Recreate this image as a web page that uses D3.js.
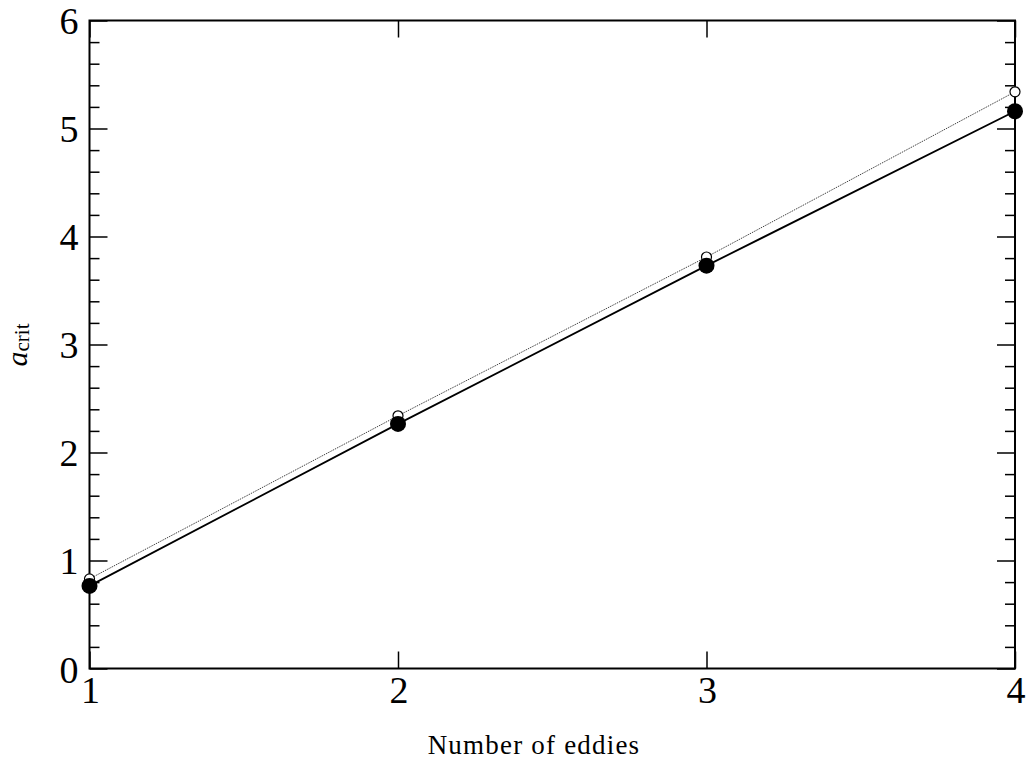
<!DOCTYPE html>
<html>
<head>
<meta charset="utf-8">
<script src="https://cdn.jsdelivr.net/npm/d3@7"></script>
<style>
  body { margin: 0; background: white; }
  text { font-family: 'Liberation Serif', 'DejaVu Serif', serif; fill: black; }
</style>
</head>
<body>
<div id="root"></div>
<script>
const eddies = [1, 2, 3, 4]
const critFilled = [0.765, 2.265, 3.73, 5.16]
const critOpen = [0.83, 2.34, 3.81, 5.34]
const xTicks = [1, 2, 3, 4]
const yTicks = [0, 1, 2, 3, 4, 5, 6]

const dimensions = {
  width: 1027,
  height: 763,
  margin: { top: 20.5, right: 12, bottom: 94.5, left: 89.5 }
}
const innerW = dimensions.width - dimensions.margin.left - dimensions.margin.right
const innerH = dimensions.height - dimensions.margin.top - dimensions.margin.bottom

const svg = d3.select('#root').append('svg')
  .attr('width', dimensions.width)
  .attr('height', dimensions.height)

const bounds = svg.append('g')
  .attr('transform', `translate(${dimensions.margin.left}, ${dimensions.margin.top})`)

const xScale = d3.scaleLinear().domain([1, 4]).range([0, innerW])
const yScale = d3.scaleLinear().domain([0, 6]).range([innerH, 0])

// minor y ticks every 0.2
const yMinor = d3.range(0, 6.001, 0.2).filter(v => Math.abs(v - Math.round(v)) > 1e-6)

// inward ticks on all four sides
function tickAxis (axisFn, scale, ticks, size, transform) {
  bounds.append('g')
    .attr('transform', transform)
    .call(axisFn(scale).tickValues(ticks).tickSize(size).tickFormat(''))
    .call(g => g.select('.domain').remove())
    .call(g => g.selectAll('line').attr('stroke', 'black').attr('stroke-width', 1.5))
}
tickAxis(d3.axisBottom, xScale, xTicks, -17, `translate(0, ${innerH})`)
tickAxis(d3.axisTop, xScale, xTicks, -17, 'translate(0, 0)')
tickAxis(d3.axisLeft, yScale, yTicks, -18, 'translate(0, 0)')
tickAxis(d3.axisRight, yScale, yTicks, -18, `translate(${innerW}, 0)`)
tickAxis(d3.axisLeft, yScale, yMinor, -10, 'translate(0, 0)')
tickAxis(d3.axisRight, yScale, yMinor, -10, `translate(${innerW}, 0)`)

// frame
bounds.append('rect')
  .attr('width', innerW)
  .attr('height', innerH)
  .attr('fill', 'none')
  .attr('stroke', 'black')
  .attr('stroke-width', 2)

// tick labels
bounds.append('g').selectAll('text')
  .data(xTicks)
  .join('text')
  .attr('x', d => xScale(d) + 1)
  .attr('y', innerH + 34.5)
  .attr('text-anchor', 'middle')
  .attr('font-size', 38)
  .text(d => d)

bounds.append('g').selectAll('text')
  .data(yTicks)
  .join('text')
  .attr('x', -11)
  .attr('y', d => yScale(d) + (d === 0 ? 14.5 : 13))
  .attr('text-anchor', 'end')
  .attr('font-size', 38)
  .text(d => d)

// axis labels
svg.append('text')
  .attr('x', 534)
  .attr('y', 754)
  .attr('text-anchor', 'middle')
  .attr('font-size', 27)
  .attr('letter-spacing', 1.2)
  .text('Number of eddies')

const ylab = svg.append('text')
  .attr('transform', 'translate(27, 345) rotate(-90)')
  .attr('text-anchor', 'middle')
  .attr('font-size', 30)
ylab.append('tspan').attr('font-style', 'italic').text('a')
ylab.append('tspan').attr('font-size', 21).attr('dy', 2).text('crit')

// lines
const line = d3.line().x((d, i) => xScale(eddies[i])).y(d => yScale(d))

bounds.append('path')
  .datum(critOpen)
  .attr('d', line)
  .attr('fill', 'none')
  .attr('stroke', '#444')
  .attr('stroke-width', 1)
  .attr('stroke-dasharray', '1.5,1')

bounds.append('path')
  .datum(critFilled)
  .attr('d', line)
  .attr('fill', 'none')
  .attr('stroke', 'black')
  .attr('stroke-width', 1.8)

bounds.append('g').selectAll('circle')
  .data(critOpen)
  .join('circle')
  .attr('cx', (d, i) => xScale(eddies[i]))
  .attr('cy', d => yScale(d))
  .attr('r', 5)
  .attr('fill', 'white')
  .attr('stroke', 'black')
  .attr('stroke-width', 1.2)

bounds.append('g').selectAll('circle')
  .data(critFilled)
  .join('circle')
  .attr('cx', (d, i) => xScale(eddies[i]))
  .attr('cy', d => yScale(d))
  .attr('r', 8)
  .attr('fill', 'black')
</script>
</body>
</html>
